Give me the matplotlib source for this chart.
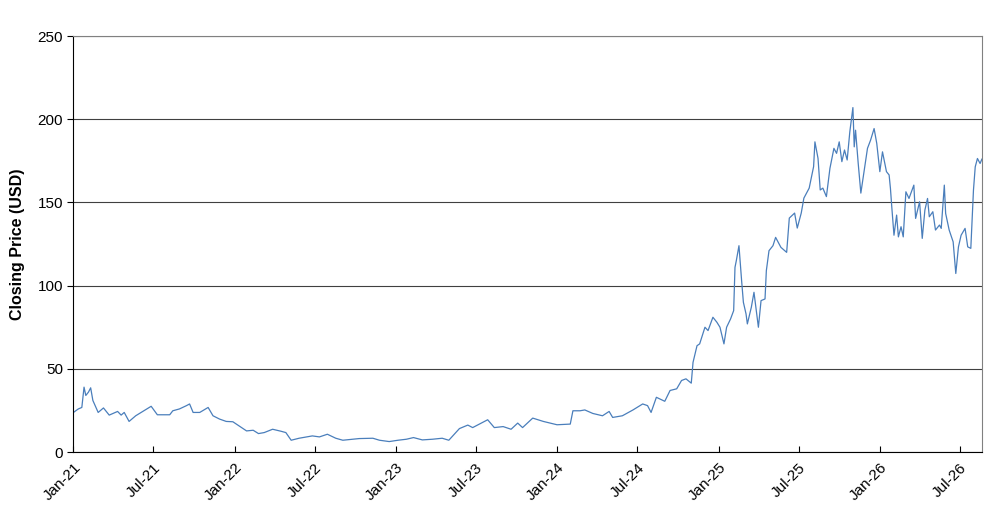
import matplotlib
matplotlib.use("Agg")
import matplotlib.pyplot as plt
import matplotlib.dates as mdates
import pandas as pd

plt.rcParams["font.family"] = ["Liberation Sans", "DejaVu Sans"]

# closing prices
dates = [
    "2021-01-01", "2021-01-12", "2021-01-20", "2021-01-25", "2021-01-29", "2021-02-04",
    "2021-02-09", "2021-02-14", "2021-02-19", "2021-02-26", "2021-03-10", "2021-03-23",
    "2021-04-11", "2021-04-19", "2021-04-26", "2021-05-07", "2021-05-22", "2021-06-07",
    "2021-06-26", "2021-07-10", "2021-08-07", "2021-08-14", "2021-08-29", "2021-09-14",
    "2021-09-21", "2021-09-29", "2021-10-14", "2021-11-02", "2021-11-13", "2021-11-28",
    "2021-12-13", "2021-12-28", "2022-01-17", "2022-01-28", "2022-02-12", "2022-02-24",
    "2022-03-09", "2022-03-28", "2022-04-16", "2022-04-27", "2022-05-09", "2022-05-27",
    "2022-06-26", "2022-07-12", "2022-07-30", "2022-08-18", "2022-09-03", "2022-10-10",
    "2022-11-10", "2022-11-25", "2022-12-17", "2023-01-06", "2023-01-25", "2023-02-10",
    "2023-03-02", "2023-03-25", "2023-04-16", "2023-05-01", "2023-05-10", "2023-05-25",
    "2023-06-13", "2023-06-24", "2023-07-09", "2023-07-28", "2023-08-12", "2023-09-01",
    "2023-09-19", "2023-10-04", "2023-10-15", "2023-11-07", "2023-12-01", "2024-01-01",
    "2024-01-31", "2024-02-06", "2024-02-22", "2024-03-04", "2024-03-22", "2024-04-13",
    "2024-04-28", "2024-05-06", "2024-05-28", "2024-06-21", "2024-07-13", "2024-07-24",
    "2024-08-01", "2024-08-13", "2024-09-01", "2024-09-13", "2024-09-28", "2024-10-09",
    "2024-10-19", "2024-10-31",
    # late 2024 - mid 2025
    "2024-11-04", "2024-11-13", "2024-11-19", "2024-12-01", "2024-12-08", "2024-12-19",
    "2024-12-28", "2025-01-04", "2025-01-13", "2025-01-19", "2025-01-28", "2025-02-04",
    "2025-02-07", "2025-02-10", "2025-02-16", "2025-02-22", "2025-02-26", "2025-03-04",
    "2025-03-07", "2025-03-16", "2025-03-22", "2025-04-01", "2025-04-07", "2025-04-16",
    "2025-04-19", "2025-04-25", "2025-05-04", "2025-05-10", "2025-05-22", "2025-06-04",
    # mid 2025 - Jan 2026
    "2025-06-10", "2025-06-22", "2025-06-28", "2025-07-07", "2025-07-13", "2025-07-25",
    "2025-08-04", "2025-08-07", "2025-08-14", "2025-08-19", "2025-08-25", "2025-09-02",
    "2025-09-10", "2025-09-19", "2025-09-25", "2025-10-01", "2025-10-07", "2025-10-13",
    "2025-10-19", "2025-10-25", "2025-11-01", "2025-11-04", "2025-11-07", "2025-11-13",
    "2025-11-19", "2025-11-28", "2025-12-04", "2025-12-11", "2025-12-19", "2025-12-25",
    "2026-01-01", "2026-01-07", "2026-01-16", "2026-01-22",
    # 2026
    "2026-01-25", "2026-01-28", "2026-02-02", "2026-02-08", "2026-02-12", "2026-02-18",
    "2026-02-23", "2026-03-01", "2026-03-08", "2026-03-19", "2026-03-23", "2026-04-01",
    "2026-04-07", "2026-04-13", "2026-04-19", "2026-04-23", "2026-05-01", "2026-05-07",
    "2026-05-16", "2026-05-20", "2026-05-27", "2026-05-30", "2026-06-07", "2026-06-16",
    "2026-06-22", "2026-06-28", "2026-07-04", "2026-07-13", "2026-07-19", "2026-07-26",
    "2026-08-01", "2026-08-05", "2026-08-10", "2026-08-16", "2026-08-20",
]
close = [
    23.8, 25.9, 26.8, 39.0, 34.0, 36.0,
    38.6, 31.0, 28.0, 23.8, 26.5, 22.2,
    24.4, 22.2, 23.8, 18.4, 21.8, 24.4,
    27.5, 22.4, 22.4, 24.8, 25.9, 27.9,
    28.9, 23.8, 23.8, 26.8, 21.8, 19.8,
    18.4, 18.2, 14.7, 12.7, 13.1, 11.1,
    11.7, 13.7, 12.5, 11.7, 7.1, 8.3,
    9.7, 9.1, 10.7, 8.3, 7.1, 8.1,
    8.3, 7.1, 6.3, 7.1, 7.7, 8.7,
    7.3, 7.7, 8.3, 7.1, 9.7, 14.1,
    16.2, 14.7, 16.8, 19.4, 14.7, 15.3,
    13.7, 17.4, 14.7, 20.4, 18.4, 16.4,
    16.8, 24.8, 24.8, 25.3, 23.2, 21.8,
    24.4, 20.8, 21.8, 25.3, 28.9, 27.9,
    23.8, 32.9, 30.5, 37.0, 38.0, 43.0,
    44.0, 41.4,
    53.9, 63.9, 65.0, 75.0, 73.0, 81.0,
    78.0, 75.0, 65.0, 75.0, 80.0, 85.0,
    111.0, 115.0, 124.0, 103.0, 90.0, 83.0,
    77.0, 87.0, 96.0, 75.0, 91.0, 92.0,
    109.0, 121.0, 124.0, 129.0, 123.0, 120.0,
    140.6, 143.6, 134.6, 143.6, 152.6, 158.6,
    171.5, 186.4, 176.5, 157.5, 158.6, 153.5,
    170.5, 182.5, 179.5, 186.4, 174.5, 181.5,
    175.5, 192.4, 207.0, 183.4, 193.4, 173.5,
    155.6, 171.5, 182.5, 187.4, 194.4, 185.5,
    168.5, 180.4, 168.5, 166.5,
    158.4, 147.4, 130.3, 142.4, 129.3, 135.4,
    129.3, 156.4, 152.4, 160.4, 140.4, 150.4,
    128.4, 145.4, 152.4, 141.4, 144.4, 133.4,
    136.4, 134.4, 160.4, 143.4, 133.4, 126.3,
    107.3, 123.3, 130.3, 134.4, 123.3, 122.4,
    157.4, 171.4, 176.4, 173.4, 176.0,
]

x = pd.to_datetime(dates)

fig = plt.figure(figsize=(10.06, 5.19), dpi=100)
ax = fig.add_axes([0.0730, 0.129, 0.9030, 0.8016])

ax.plot(x, close, color="#4a7ebb", linewidth=0.9)

ax.set_xlim(pd.Timestamp("2021-01-01"), pd.Timestamp("2026-08-20"))
ax.set_ylim(0, 250)
ax.set_yticks(range(0, 251, 50))
ax.yaxis.grid(True, color="#404040", linewidth=0.8)
ax.set_axisbelow(True)

ax.xaxis.set_major_locator(mdates.MonthLocator(bymonth=[1, 7]))
ax.xaxis.set_major_formatter(mdates.DateFormatter("%b-%y"))
plt.setp(ax.get_xticklabels(), rotation=45, ha="right", rotation_mode="anchor")

ax.tick_params(axis="x", direction="in", length=4, labelsize=11, pad=6)
ax.tick_params(axis="y", direction="out", length=4, labelsize=11)

for side in ("top", "right"):
    ax.spines[side].set_color("#808080")
for side in ("left", "bottom"):
    ax.spines[side].set_color("black")

ax.set_ylabel("Closing Price (USD)", fontsize=11.5, fontweight="bold", labelpad=9)

fig.savefig("out.png", dpi=100)
